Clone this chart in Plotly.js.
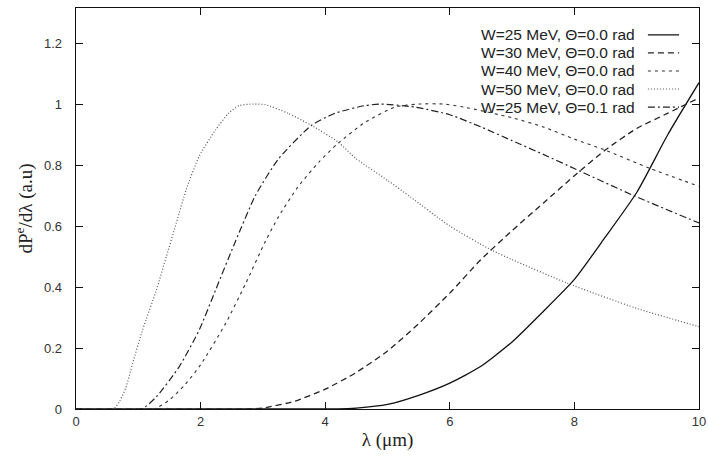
<!DOCTYPE html>
<html>
<head>
<meta charset="utf-8">
<script src="https://cdn.plot.ly/plotly-3.0.1.min.js"></script>
<style>html,body{margin:0;padding:0;background:#fff;}#chart{width:708px;height:456px;}</style>
</head>
<body>
<div id="chart"></div>
<script>
// W=25 MeV, theta=0.0 rad (solid)
const lam_w25 = [0, 4.2, 4.5, 5.0, 5.5, 6.0, 6.5, 7.0, 7.5, 8.0, 8.5, 9.0, 9.5, 10.0];
const val_w25 = [0, 0, 0.003, 0.015, 0.045, 0.085, 0.14, 0.22, 0.32, 0.425, 0.565, 0.71, 0.90, 1.07];
// W=30 MeV, theta=0.0 rad (dashed)
const lam_w30 = [0, 2.8, 3.0, 3.5, 4.0, 4.5, 5.0, 5.5, 6.0, 6.5, 7.0, 7.5, 8.0, 8.5, 9.0, 9.5, 10.0];
const val_w30 = [0, 0, 0.003, 0.025, 0.065, 0.12, 0.19, 0.28, 0.38, 0.49, 0.585, 0.675, 0.765, 0.85, 0.92, 0.97, 1.02];
// W=40 MeV, theta=0.0 rad (short dashes)
const lam_w40 = [0, 1.25, 1.5, 1.75, 2.0, 2.4, 2.72, 3.04, 3.25, 3.55, 3.9, 4.2, 4.64, 5.12, 5.5, 5.9, 6.23, 7.0, 7.5, 8.0, 8.48, 9.2, 10.0];
const val_w40 = [0, 0, 0.03, 0.08, 0.145, 0.28, 0.41, 0.55, 0.63, 0.725, 0.81, 0.87, 0.94, 0.99, 1.0, 1.0, 0.99, 0.955, 0.925, 0.885, 0.85, 0.79, 0.73];
// W=50 MeV, theta=0.0 rad (dotted)
const lam_w50 = [0, 0.6, 0.7, 0.8, 0.91, 1.07, 1.29, 1.45, 1.61, 1.77, 1.98, 2.24, 2.45, 2.62, 2.85, 3.04, 3.4, 3.78, 4.21, 4.5, 5.0, 5.37, 6.0, 6.68, 7.0, 7.88, 9.0, 10.0];
const val_w50 = [0, 0, 0.025, 0.07, 0.15, 0.26, 0.39, 0.5, 0.61, 0.72, 0.83, 0.915, 0.97, 0.995, 1.0, 0.998, 0.97, 0.93, 0.875, 0.82, 0.75, 0.695, 0.6, 0.52, 0.49, 0.413, 0.33, 0.27];
// W=25 MeV, theta=0.1 rad (dash-dot)
const lam_w25b = [0, 1.05, 1.29, 1.66, 1.98, 2.24, 2.56, 2.88, 3.25, 3.78, 4.16, 4.64, 4.9, 5.44, 6.0, 6.5, 7.0, 7.5, 8.09, 8.95, 10.0];
const val_w25b = [0, 0, 0.04, 0.14, 0.26, 0.39, 0.55, 0.70, 0.82, 0.93, 0.97, 0.995, 1.0, 0.99, 0.965, 0.925, 0.88, 0.835, 0.78, 0.70, 0.61];

const seriesNames = [
  "W=25 MeV, \u0398=0.0 rad",
  "W=30 MeV, \u0398=0.0 rad",
  "W=40 MeV, \u0398=0.0 rad",
  "W=50 MeV, \u0398=0.0 rad",
  "W=25 MeV, \u0398=0.1 rad"
];
const xTickVals = [0, 2, 4, 6, 8, 10];
const yTickVals = [0, 0.2, 0.4, 0.6, 0.8, 1, 1.2];

const xs = [lam_w25, lam_w30, lam_w40, lam_w50, lam_w25b];
const ys = [val_w25, val_w30, val_w40, val_w50, val_w25b];
const styles = [
  {dash: "solid", color: "#111", width: 1.3},
  {dash: "6px,4px", color: "#222", width: 1.3},
  {dash: "3px,4px", color: "#333", width: 1.1},
  {dash: "1px,2px", color: "#555", width: 1.2},
  {dash: "7px,3px,2px,3px", color: "#222", width: 1.2}
];

const traces = xs.map((x, i) => ({
  x: x, y: ys[i], type: "scatter", mode: "lines", name: seriesNames[i],
  line: {shape: "spline", smoothing: 0.6, dash: styles[i].dash, color: styles[i].color, width: styles[i].width},
  showlegend: false, hoverinfo: "skip"
}));

// gnuplot-style key: text right aligned, sample line on the right
const keyRowsY = [0.933, 0.888, 0.843, 0.798, 0.753];
const annotations = seriesNames.map((t, i) => ({
  xref: "paper", yref: "paper", x: 0.9, y: keyRowsY[i], xanchor: "right", yanchor: "middle",
  text: t, showarrow: false, font: {family: "Liberation Sans, Arial, sans-serif", size: 15.5, color: "#222"}
}));
const shapes = seriesNames.map((t, i) => ({
  type: "line", xref: "paper", yref: "paper", x0: 0.918, x1: 0.968, y0: keyRowsY[i], y1: keyRowsY[i],
  line: {dash: styles[i].dash, color: styles[i].color, width: styles[i].width}
}));

const layout = {
  width: 708, height: 456,
  margin: {l: 76, r: 9, t: 8, b: 47},
  paper_bgcolor: "#fff", plot_bgcolor: "#fff",
  showlegend: false,
  font: {family: "Liberation Sans, Arial, sans-serif", size: 13, color: "#333"},
  xaxis: {
    range: [0, 10], tickvals: xTickVals, ticks: "inside", ticklen: 7, tickcolor: "#111",
    showline: true, linecolor: "#111", linewidth: 1.3, mirror: "ticks", showgrid: false, zeroline: false,
    tickfont: {size: 13, color: "#333"},
    title: {text: "\u03bb (\u03bcm)", font: {family: "Liberation Serif, Times New Roman, serif", size: 19, color: "#222"}, standoff: 4}
  },
  yaxis: {
    range: [0, 1.315], tickvals: yTickVals, ticks: "inside", ticklen: 7, tickcolor: "#111",
    showline: true, linecolor: "#111", linewidth: 1.3, mirror: "ticks", showgrid: false, zeroline: false,
    tickfont: {size: 13, color: "#333"}, ticklabelstandoff: 10,
    title: {text: "dP<sup>e</sup>/d\u03bb (a.u)", font: {family: "Liberation Serif, Times New Roman, serif", size: 19, color: "#222"}, standoff: 6}
  },
  annotations: annotations,
  shapes: shapes
};

Plotly.newPlot("chart", traces, layout, {staticPlot: true, displayModeBar: false});
</script>
</body>
</html>
